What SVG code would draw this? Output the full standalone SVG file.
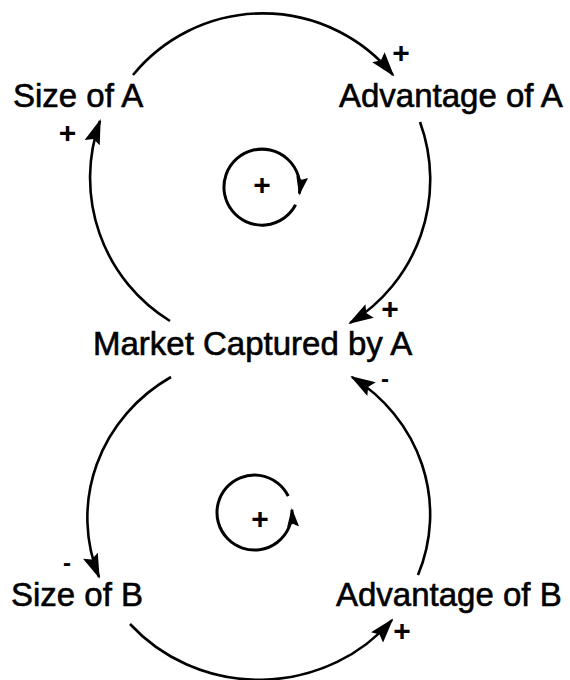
<svg xmlns="http://www.w3.org/2000/svg" width="570" height="680" viewBox="0 0 570 680">
  <style>
    .lbl { font-family: "Liberation Sans", Arial, Helvetica, sans-serif; font-size: 33px; fill: #000; stroke: #000; stroke-width: 0.6; }
    .sign { font-family: "Liberation Sans", Arial, Helvetica, sans-serif; font-size: 30px; font-weight: bold; fill: #000; text-anchor: middle; }
    .minus { font-family: "Liberation Sans", Arial, Helvetica, sans-serif; font-size: 24px; font-weight: bold; fill: #000; text-anchor: middle; }
    .arc { fill: none; stroke: #000; stroke-width: 2.6; }
    .loop { fill: none; stroke: #000; stroke-width: 3; }
  </style>
  <defs>
    <marker id="ah" markerUnits="userSpaceOnUse" markerWidth="25" markerHeight="16" viewBox="0 0 25 16" refX="23" refY="8" orient="auto">
      <path d="M0,0 L25,8 L0,16 L4,8 z" fill="#000"/>
    </marker>
    <marker id="ahs" markerUnits="userSpaceOnUse" markerWidth="19" markerHeight="12" viewBox="0 0 19 12" refX="17" refY="6" orient="auto">
      <path d="M0,0 L19,6 L0,12 L3,6 z" fill="#000"/>
    </marker>
  </defs>
  <rect width="570" height="680" fill="#fff"/>

  <g id="connectors">
    <path class="arc" d="M133,75 A168,168 0 0 1 393,75" marker-end="url(#ah)"/>
    <path class="arc" d="M420,122 A168,168 0 0 1 350,323" marker-end="url(#ah)"/>
    <path class="arc" d="M170,321 A168,168 0 0 1 100,121" marker-end="url(#ah)"/>
    <path class="arc" d="M171,377 A172,164 0 0 0 99,577" marker-end="url(#ah)"/>
    <path class="arc" d="M130,624 A172,164 0 0 0 392,620" marker-end="url(#ah)"/>
    <path class="arc" d="M418,575 A172,164 0 0 0 352,377" marker-end="url(#ah)"/>
    <text class="sign" x="401" y="62.5">+</text>
    <text class="sign" x="390" y="318.5">+</text>
    <text class="sign" x="67.5" y="142.5">+</text>
    <text class="minus" x="385" y="386.5">-</text>
    <text class="minus" x="67" y="570.5">-</text>
    <text class="sign" x="402" y="640.5">+</text>
  </g>

  <g id="loopA">
    <path class="loop" d="M295.6,204.8 A38,38 0 1 1 299.4,193.6" marker-end="url(#ahs)"/>
    <text class="sign" x="262" y="194.5">+</text>
  </g>
  <g id="loopB">
    <path class="loop" d="M288.2,496.1 A37.5,37.5 0 1 0 291.9,509.9" marker-end="url(#ahs)"/>
    <text class="sign" x="260" y="528.5">+</text>
  </g>

  <g id="sizeA"><text class="lbl" x="13" y="107">Size of A</text></g>
  <g id="advantageA"><text class="lbl" x="339" y="107">Advantage of A</text></g>
  <g id="market"><text class="lbl" x="93" y="355">Market Captured by A</text></g>
  <g id="sizeB"><text class="lbl" x="11" y="606">Size of B</text></g>
  <g id="advantageB"><text class="lbl" x="336" y="606">Advantage of B</text></g>
</svg>
